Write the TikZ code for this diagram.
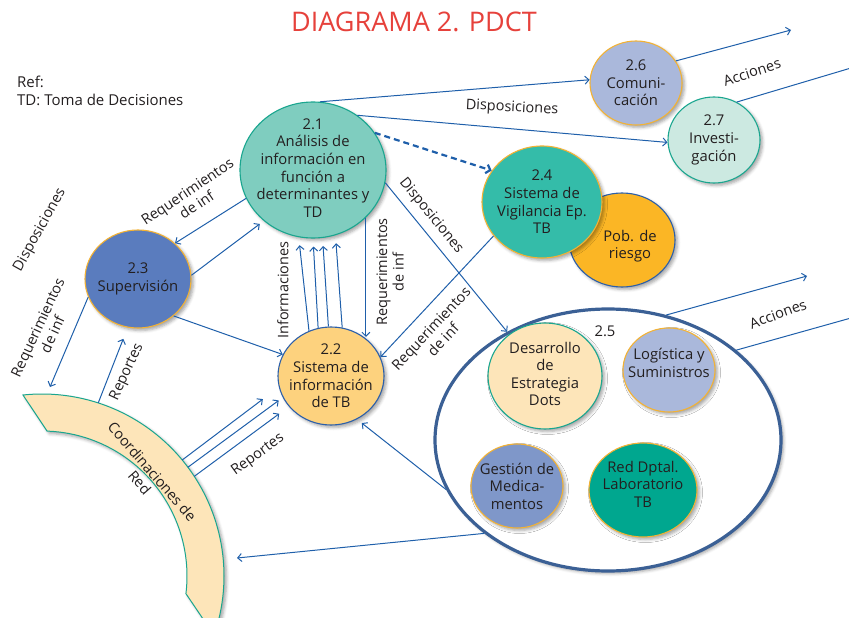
\documentclass[tikz,border=0pt]{standalone}
\usepackage{fontspec}
\setmainfont{Open Sans}
\usetikzlibrary{arrows.meta,shapes.geometric,shadows.blur,calc}

\definecolor{ink}{HTML}{231F20}
\definecolor{flowblue}{HTML}{1F5FAA}
\definecolor{titlered}{HTML}{E6413B}
\definecolor{tealline}{HTML}{1AA68F}
\definecolor{goldline}{HTML}{F3B234}
\definecolor{blueline}{HTML}{2C5FAA}
\definecolor{ringline}{HTML}{3B6095}
\definecolor{fillA}{HTML}{7FCDBF}
\definecolor{fillB}{HTML}{AAB8DB}
\definecolor{fillC}{HTML}{CCE9E1}
\definecolor{fillD}{HTML}{34BCA9}
\definecolor{fillE}{HTML}{FBB625}
\definecolor{fillF}{HTML}{5A7CBE}
\definecolor{fillG}{HTML}{FDD27E}
\definecolor{fillH}{HTML}{FDE5B9}
\definecolor{fillI}{HTML}{7F97C9}
\definecolor{fillJ}{HTML}{00A78F}

\begin{document}
\begin{tikzpicture}[x=1pt,y=-1pt,
  every node/.style={inner sep=0pt, text=ink},
  soft/.style={blur shadow={shadow xshift=2.5pt,shadow yshift=-2.5pt,shadow blur radius=3pt,shadow opacity=35}},
  bubble/.style={ellipse, line width=1.1pt, soft},
  btext/.style={align=center, font=\fontsize{14.8}{17.6}\selectfont},
  lbl/.style={align=center, font=\fontsize{14.5}{16.5}\selectfont},
  flow/.style={draw=flowblue, line width=1pt, -{Straight Barb[length=4pt,width=8pt]}},
  flowplain/.style={draw=flowblue, line width=1pt},
  dashflow/.style={draw=flowblue, line width=2.2pt, dash pattern=on 6pt off 4pt, -{Straight Barb[length=4pt,width=9pt]}},
]
\useasboundingbox (0,0) rectangle (849,618);

% title and reference note
\node[font=\fontsize{27}{30}\selectfont, text=titlered] (title) at (414,22) {DIAGRAMA 2. PDCT};
\node[anchor=west, align=left, font=\fontsize{15}{18}\selectfont] (ref) at (17,91) {Ref:\\TD: Toma de Decisiones};

% network coordinations band
\coordinate (cc) at (42,576);
\path[draw=tealline, line width=1pt, fill=fillH, soft]
  ($(cc)+(-96:182)$) arc[start angle=-96, end angle=19, radius=182]
  -- ($(cc)+(7:145)$) arc[start angle=7, end angle=-88, radius=145] -- cycle;
\node[lbl, rotate=-49] (coordt) at (146,477) {Coordinaciones de\\Red};

% processes
\node[bubble, fill=fillA, draw=tealline, minimum width=146pt, minimum height=136pt] (n21) at (313,170) {};
\node[btext] (t21) at (313,168) {2.1\\Análisis de\\información en\\función a\\determinantes y\\TD};

\node[bubble, fill=fillB, draw=goldline, minimum width=92pt, minimum height=84pt] (n26) at (636,83) {};
\node[btext] (t26) at (n26) {2.6\\Comuni-\\cación};

\node[bubble, fill=fillC, draw=tealline, minimum width=92pt, minimum height=86pt] (n27) at (714,140) {};
\node[btext] (t27) at (n27) {2.7\\Investi-\\gación};

\node[bubble, fill=fillE, draw=blueline, minimum width=106pt, minimum height=94pt] (pob) at (622,240) {};
\node[btext] (tpob) at (630,246) {Pob. de\\riesgo};

\node[bubble, fill=fillD, draw=goldline, minimum width=120pt, minimum height=112pt] (n24) at (542,202) {};
\node[btext] (t24) at (n24) {2.4\\Sistema de\\Vigilancia Ep.\\TB};

\node[bubble, fill=fillF, draw=goldline, minimum width=106pt, minimum height=98pt] (n23) at (138,279) {};
\node[btext] (t23) at (n23) {2.3\\Supervisión};

\node[bubble, fill=fillG, draw=blueline, minimum width=106pt, minimum height=98pt] (n22) at (331,376) {};
\node[btext] (t22) at (n22) {2.2\\Sistema de\\información\\de TB};

% group 2.5
\node[ellipse, draw=ringline, line width=3.2pt, fill=white, soft, minimum width=346pt, minimum height=262pt] (n25) at (608,440) {};
\node[btext] (t25) at (605,331) {2.5};

\node[bubble, fill=fillH, draw=tealline, minimum width=114pt, minimum height=106pt] (dots) at (545,376) {};
\node[btext] (tdots) at (545,374) {Desarrollo\\de\\Estrategia\\Dots};

\node[bubble, fill=fillB, draw=goldline, minimum width=92pt, minimum height=84pt] (logi) at (669,370) {};
\node[btext] (tlogi) at (669,363) {Logística y\\Suministros};

\node[bubble, fill=fillI, draw=goldline, minimum width=92pt, minimum height=84pt] (gest) at (517,486) {};
\node[btext] (tgest) at (gest) {Gestión de\\Medica-\\mentos};

\node[bubble, fill=fillJ, draw=goldline, minimum width=108pt, minimum height=94pt] (lab) at (643,490) {};
\node[btext] (tlab) at (643,484) {Red Dptal.\\Laboratorio\\TB};

% free ends
\coordinate (a26) at (791,30);
\coordinate (a27) at (851,68);
\coordinate (a23) at (50,387);
\coordinate (a25) at (237,558);
\coordinate (a25b) at (807,276);
\coordinate (a25c) at (851,318);
\coordinate (r0) at ($(cc)+(-72:182)$);
\coordinate (r1) at ($(cc)+(-39.6:182)$);
\coordinate (r2) at ($(cc)+(-36.7:182)$);
\coordinate (r3) at ($(cc)+(-33.2:182)$);

% flows
\draw[flow] (n21.84) -- (n26.176);
\draw[flow] (n21.51) -- (n27.183.5);
\draw[flow] (n26.29) -- (a26);
\draw[flowplain] (n27.59) -- (a27);
\draw[dashflow] (n21.31) -- (n24.148);
\draw[flow] (n21.-10) -- (n25.133);
\draw[flow] (n24.215.5) -- (n22.21);
\draw[flow] (n21.-42.5) -- (n21.-42.5 |- n22.50);
\draw[flow, shorten >=8pt] (n22.116.6) -- (n21.-102.7);
\draw[flow, shorten >=8pt] (n22.105) -- (n21.-90.8);
\draw[flow, shorten >=8pt] (n22.93.5) -- (n21.-82.4);
\draw[flow, shorten >=8pt] (n22.77.6) -- (n21.-71.2);
\draw[flow] (n21.203) -- (n23.44);
\draw[flow, shorten >=5pt] (n23.4) -- (n21.-134);
\draw[flow] (n23.-46) -- (n22.156.5);
\draw[flow] (n23.-160) -- (a23);
\draw[flow, shorten >=12pt] (r0) -- (n23.-102);
\draw[flow, shorten >=20pt] (r1) -- (n22.-168.3);
\draw[flow, shorten >=5pt] (r2) -- (n22.-156.4);
\draw[flow, shorten >=12pt] (r3) -- (n22.-144.6);
\draw[flow, shorten >=6pt] (n25.-163.6) -- (n22.-59.4);
\draw[flow] (n25.-143.2) -- (a25);
\draw[flow] (n25.65.8) -- (a25b);
\draw[flowplain] (n25.35.3) -- (a25c);

% flow labels
\node[lbl, rotate=-3] (l1) at (512,108) {Disposiciones};
\node[lbl, rotate=18] (l2) at (752,72) {Acciones};
\node[lbl, rotate=-51] (l3) at (431,216) {Disposiciones};
\node[lbl, rotate=47] (l4) at (437,334) {Requerimientos\\de inf};
\node[lbl, rotate=90] (l5) at (390,272) {Requerimientos\\de inf};
\node[lbl, rotate=90] (l6) at (283,290) {Informaciones};
\node[lbl, rotate=34] (l7) at (192,198) {Requerimientos\\de inf};
\node[lbl, rotate=61] (l8) at (40,230) {Disposiciones};
\node[lbl, rotate=65] (l9) at (45,331) {Requerimientos\\de inf};
\node[lbl, rotate=65] (l10) at (127,372) {Reportes};
\node[lbl, rotate=36] (l11) at (258,455) {Reportes};
\node[lbl, rotate=20] (l12) at (778,314) {Acciones};
\end{tikzpicture}
\end{document}
